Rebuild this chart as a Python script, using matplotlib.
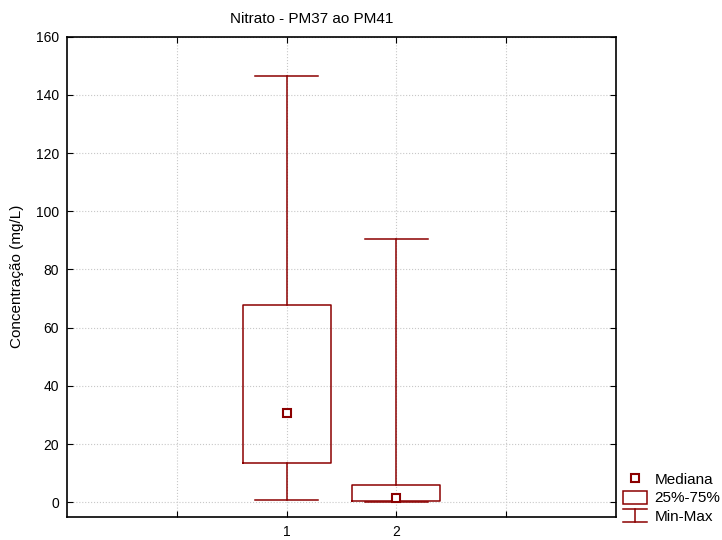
import matplotlib
matplotlib.use("Agg")
import matplotlib.pyplot as plt
from matplotlib.legend_handler import HandlerBase
from matplotlib.lines import Line2D
from matplotlib.patches import Rectangle

plt.rcParams['font.family'] = ['Liberation Sans', 'DejaVu Sans']

grupos = [1, 2]
minimos = [0.6, 0.1]
q25 = [13.4, 0.3]
medianas = [30.8, 1.5]
q75 = [67.8, 5.9]
maximos = [146.5, 90.5]

cor = '#8B0000'
lw = 1.1

fig = plt.figure(figsize=(7.22, 5.4), dpi=100)
ax = fig.add_axes([0.093, 0.043, 0.760, 0.889])

stats = []
for i in range(len(grupos)):
    stats.append({'whislo': minimos[i], 'q1': q25[i], 'med': medianas[i],
                  'q3': q75[i], 'whishi': maximos[i], 'fliers': []})

ax.bxp(stats, positions=grupos, widths=0.8, capwidths=0.58,
       boxprops=dict(color=cor, linewidth=lw),
       whiskerprops=dict(color=cor, linewidth=lw),
       capprops=dict(color=cor, linewidth=lw),
       medianprops=dict(linestyle='none'),
       showfliers=False, manage_ticks=False, zorder=3)
ax.plot(grupos, medianas, 's', markersize=6, markerfacecolor='white',
        markeredgecolor=cor, markeredgewidth=1.5, linestyle='none', zorder=4)

ax.set_xlim(-1, 4)
ax.set_ylim(-5, 160)
ax.set_xticks([0, 1, 2, 3])
ax.set_xticklabels(['', '1', '2', ''])
ax.set_yticks(range(0, 161, 20))
ax.tick_params(direction='in', top=True, right=True, labelsize=10, length=4,
               pad=6)
ax.grid(True, color='#c8c8c8', linestyle=':', linewidth=0.8)
ax.set_axisbelow(True)
for s in ax.spines.values():
    s.set_linewidth(1.2)

ax.set_title('Nitrato - PM37 ao PM41', fontsize=11, pad=10, x=0.446)
ax.set_ylabel('Concentração (mg/L)', fontsize=11)
ax.yaxis.set_label_coords(-0.078, 0.5)


class HandlerMinMax(HandlerBase):
    def create_artists(self, legend, orig_handle, xdescent, ydescent,
                       width, height, fontsize, trans):
        x0, x1 = -xdescent, -xdescent + width
        xm = (x0 + x1) / 2
        y0, y1 = -ydescent, -ydescent + height
        arts = [Line2D([x0, x1], [y1, y1]), Line2D([xm, xm], [y0, y1]),
                Line2D([x0, x1], [y0, y0])]
        for a in arts:
            a.set_color(cor)
            a.set_linewidth(lw)
            a.set_transform(trans)
        return arts


class HandlerCaixa(HandlerBase):
    def create_artists(self, legend, orig_handle, xdescent, ydescent,
                       width, height, fontsize, trans):
        r = Rectangle((-xdescent, -ydescent), width, height,
                      facecolor='white', edgecolor=cor, linewidth=lw,
                      transform=trans)
        return [r]


h_med = Line2D([], [], marker='s', markersize=6, markerfacecolor='white',
               markeredgecolor=cor, markeredgewidth=1.5, linestyle='none')
h_box = Rectangle((0, 0), 1, 1)
h_mm = Line2D([], [])
fig.legend([h_med, h_box, h_mm], ['Mediana', '25%-75%', 'Min-Max'],
           handler_map={Rectangle: HandlerCaixa(), h_mm: HandlerMinMax()},
           loc='lower left', bbox_to_anchor=(0.861, 0.027), frameon=False,
           fontsize=11, handlelength=1.55, handleheight=0.95,
           handletextpad=0.5, labelspacing=0.24, borderpad=0.1,
           borderaxespad=0)

fig.savefig('out.png', dpi=100)
